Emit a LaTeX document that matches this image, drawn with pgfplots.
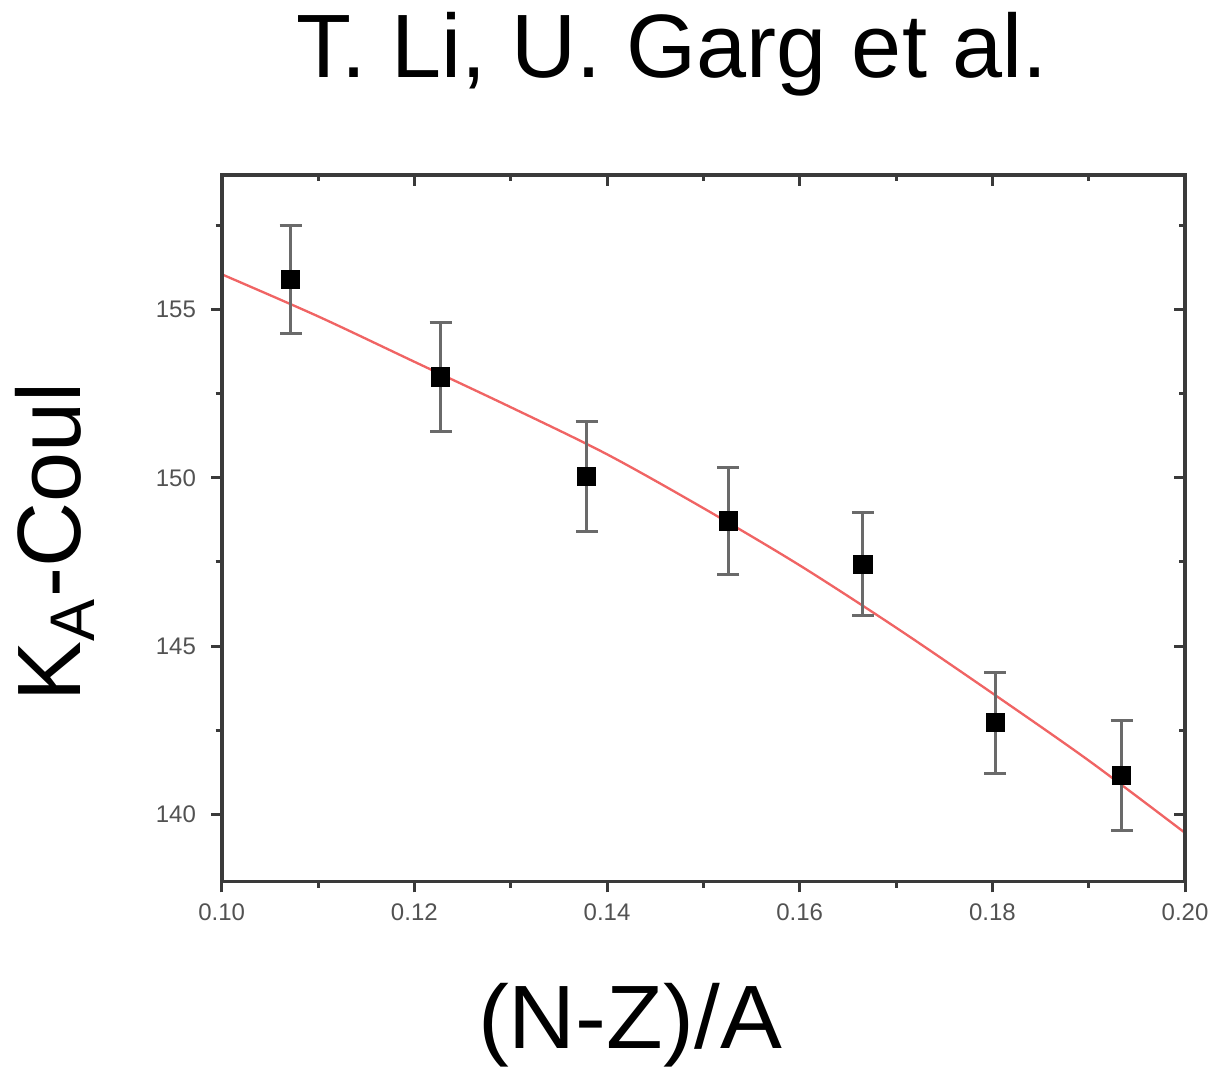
\documentclass[border=0pt]{standalone}
\usepackage{fontspec}
\setmainfont{Liberation Sans}
\usepackage{graphicx}
\usepackage{pgfplots}
\pgfplotsset{compat=1.18}
\definecolor{fitred}{HTML}{F06464}
\definecolor{errgray}{HTML}{6A6A6A}
\definecolor{framegray}{HTML}{3A3A3A}
\begin{document}
\begin{tikzpicture}
\path[use as bounding box] (-66.5pt,-55.6pt) rectangle ++(365.7pt,320.1pt);
\pgfplotsset{
  common/.style={
    scale only axis, width=289pt, height=212pt,
    xmin=0.10, xmax=0.20, ymin=138, ymax=159,
    xtick={0.10,0.12,...,0.20}, minor xtick={0.11,0.13,0.15,0.17,0.19},
    ytick={140,145,150,155}, minor ytick={142.5,147.5,152.5,157.5},
    axis line style={framegray, line width=1.1pt},
    major tick style={framegray, line width=0.9pt},
    minor tick style={framegray, line width=0.9pt},
    major tick length=3.2pt, minor tick length=1.8pt,
  }
}
\begin{axis}[common,
  xtick pos=bottom, ytick pos=left, tick align=outside,
  /pgf/number format/assume math mode=true,
  xticklabel style={font=\fontsize{7.2}{8}\selectfont, text=black!68, /pgf/number format/fixed, /pgf/number format/fixed zerofill, /pgf/number format/precision=2},
  yticklabel style={font=\fontsize{7.2}{8}\selectfont, text=black!68, xshift=-1pt},
  scaled x ticks=false,
]
\addplot[fitred, line width=0.7pt, smooth] coordinates {
  (0.10,156.05) (0.11,154.80) (0.12,153.45) (0.13,152.10) (0.14,150.70)
  (0.15,149.10) (0.16,147.40) (0.17,145.55) (0.18,143.60) (0.19,141.60) (0.20,139.45)
};
\addplot[only marks, mark=square*, mark size=2.7pt, black,
  error bars/.cd, y dir=both, y explicit,
  error bar style={errgray, line width=0.9pt},
  error mark options={errgray, rotate=90, mark size=3.3pt, line width=0.9pt}]
  coordinates {
  (0.10716,155.89) +- (0,1.61)
  (0.12273,153.00) +- (0,1.63)
  (0.13789,150.04) +- (0,1.63)
  (0.15259,148.72) +- (0,1.60)
  (0.16657,147.43) +- (0,1.53)
  (0.18030,142.72) +- (0,1.50)
  (0.19343,141.16) +- (0,1.64)
};
\end{axis}
\begin{axis}[common,
  xtick pos=top, ytick pos=right, tick align=inside,
  xticklabels={}, yticklabels={},
]
\end{axis}
\node[font=\fontsize{27}{32}\selectfont] at (135.1pt,248.3pt) {T. Li, U. Garg et al.};
\node[font=\fontsize{27}{32}\selectfont] at (122.5pt,-43pt) {\scalebox{1.03}[1]{(N-Z)/A}};
\node[font=\fontsize{27}{32}\selectfont, rotate=90] at (-50pt,101.9pt) {K\textsubscript{A}-Coul};
\end{tikzpicture}
\end{document}
